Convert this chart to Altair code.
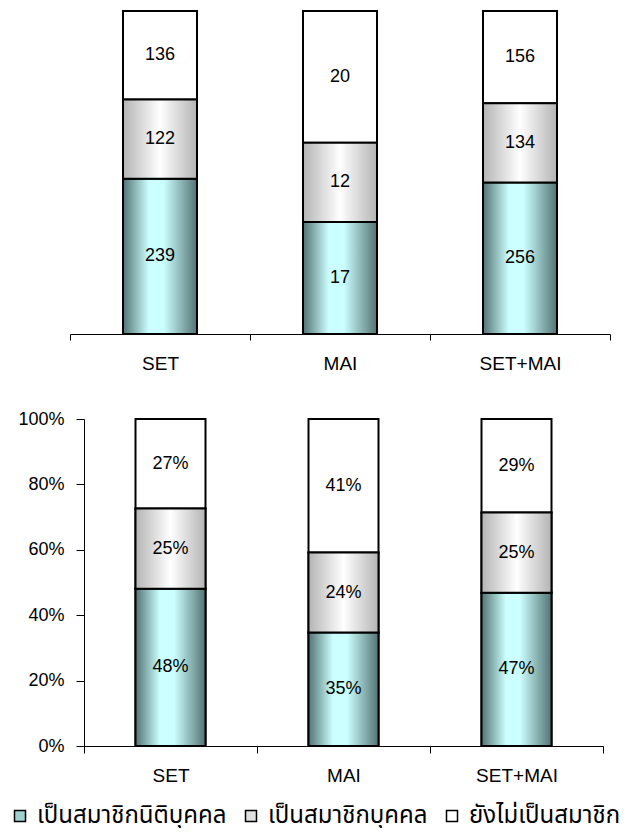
import altair as alt
import pandas as pd

categories = ["SET", "MAI", "SET+MAI"]
series = ["เป็นสมาชิกนิติบุคคล", "เป็นสมาชิกบุคคล", "ยังไม่เป็นสมาชิก"]
juristic = [239, 17, 256]
individual = [122, 12, 134]
nonmember = [136, 20, 156]

rows = []
for i, c in enumerate(categories):
    for j, vals in enumerate([juristic, individual, nonmember]):
        rows.append({"cat": c, "series": series[j], "order": j, "value": vals[i]})
df = pd.DataFrame(rows)

FONT = "Liberation Sans"
THAI_FONT = "Noto Sans Thai, Tahoma, Loma, Garuda, Liberation Sans, DejaVu Sans, sans-serif"

TEAL = alt.LinearGradient(
    gradient="linear", x1=0, y1=0, x2=1, y2=0,
    stops=[alt.GradientStop(color="#537373", offset=0),
           alt.GradientStop(color="#ccffff", offset=0.35),
           alt.GradientStop(color="#ccffff", offset=0.55),
           alt.GradientStop(color="#537373", offset=1)])
GRAY = alt.LinearGradient(
    gradient="linear", x1=0, y1=0, x2=1, y2=0,
    stops=[alt.GradientStop(color="#b4b4b4", offset=0),
           alt.GradientStop(color="#ffffff", offset=0.5),
           alt.GradientStop(color="#b4b4b4", offset=1)])


def panel(width, height, xrange, bar_size, yaxis, tick_size, label_pad, text_field, text_fmt):
    base = (
        alt.Chart(df)
        .transform_joinaggregate(total="sum(value)", groupby=["cat"])
        .transform_calculate(pct="datum.value / datum.total")
        .transform_stack(stack="value", groupby=["cat"], as_=["y0", "y1"],
                         offset="normalize",
                         sort=[alt.SortField(field="order", order="ascending")])
        .transform_calculate(mid="(datum.y0 + datum.y1) / 2")
    )
    x = alt.X("cat:N", sort=categories,
              scale=alt.Scale(paddingInner=0, paddingOuter=0, range=xrange),
              axis=alt.Axis(title=None, labelAngle=0, tickBand="extent",
                            tickSize=tick_size, labelPadding=label_pad,
                            labelFontSize=19, labelFont=FONT, grid=False))
    y = alt.Y("y0:Q", scale=alt.Scale(domain=[0, 1]), axis=yaxis)
    legend_bars = base.mark_bar(size=bar_size, stroke="black", strokeWidth=2).encode(
        x=x, y=y, y2="y1:Q",
        color=alt.Color("series:N", scale=alt.Scale(domain=series,
                                                     range=["#9fd0d0", "#dedede", "#ffffff"]),
                        legend=alt.Legend(title=None, orient="none", legendX=-76, legendY=793,
                                          direction="horizontal", columns=3,
                                          symbolType="square", symbolSize=121,
                                          symbolStrokeColor="black", symbolStrokeWidth=1.5,
                                          labelFontSize=24, labelFont=THAI_FONT,
                                          labelOffset=5, columnPadding=12, labelLimit=400,
                                          labelColor="black")),
    )
    teal = base.transform_filter("datum.order == 0").mark_bar(
        size=bar_size, fill=TEAL, stroke="black", strokeWidth=2).encode(x=x, y=y, y2="y1:Q")
    gray = base.transform_filter("datum.order == 1").mark_bar(
        size=bar_size, fill=GRAY, stroke="black", strokeWidth=2).encode(x=x, y=y, y2="y1:Q")
    text = base.mark_text(font=FONT, fontSize=18, color="black").encode(
        x=x, y=alt.Y("mid:Q"),
        text=alt.Text(text_field, format=text_fmt))
    return alt.layer(legend_bars, teal, gray, text).properties(width=width, height=height)


bottom_axis = alt.Axis(values=[0, 0.2, 0.4, 0.6, 0.8, 1.0], format=".0%", title=None,
                       grid=False, tickSize=8, labelPadding=12, labelFontSize=18,
                       labelFont=FONT, minExtent=75, maxExtent=75)

top = panel(526, 323, [-14, 526], 74, None, 6, 14, "value:Q", "d")
bottom = panel(519, 327, [0, 519], 70, bottom_axis, 7, 13, "pct:Q", ".0%")

chart = (
    alt.concat(top, bottom, columns=1, spacing=37)
    .properties(padding={"left": 0, "top": 2, "right": 0, "bottom": 0})
    .configure_view(stroke=None)
    .configure_axis(domainColor="black", tickColor="black", labelColor="black",
                    domainWidth=1, tickWidth=1)
)

chart.save("out.html", embed_options={"renderer": "svg", "actions": False})
